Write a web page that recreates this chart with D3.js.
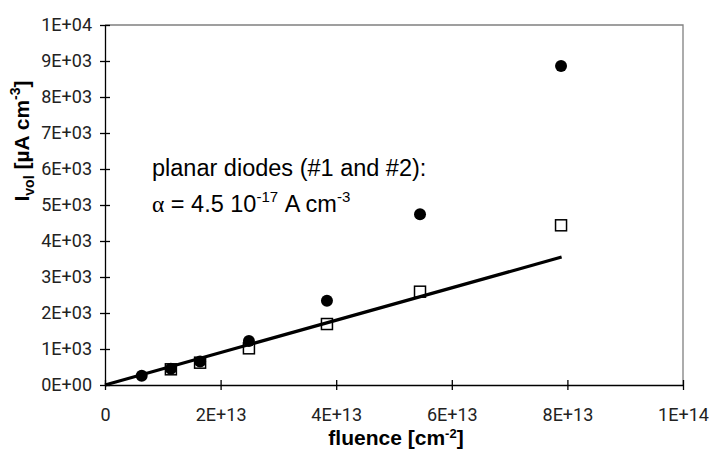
<!DOCTYPE html>
<html>
<head>
<meta charset="utf-8">
<script src="https://cdn.jsdelivr.net/npm/d3@7"></script>
<style>
    body { margin: 0; background: #fff; }
    .tick text { font-family: Roboto, "Liberation Sans", sans-serif; font-size: 18px; fill: #222; }
</style>
</head>
<body>
<div id="chart"></div>
<script>

// fluence in cm^-2, current in uA cm^-3
let fluence = [6.35e12, 1.14e13, 1.645e13, 2.49e13, 3.84e13, 5.45e13, 7.89e13];
let diodeCircles = [258, 450, 650, 1222, 2342, 4741, 8861];
let diodeSquares = [null, 436, 620, 1019, 1694, 2592, 4436];
let fitFluence = [0, 7.9e13];
let fitCurrent = [0, 3555];
let xTicks = [0, 2e13, 4e13, 6e13, 8e13, 1e14];
let yTicks = [0, 1000, 2000, 3000, 4000, 5000, 6000, 7000, 8000, 9000, 10000];

let width = 709,
    height = 450;
let margin = {top: 25, right: 26, bottom: 65, left: 105};

let svg = d3.select('#chart')
    .append('svg')
    .attr('width', width)
    .attr('height', height);

let x = d3.scaleLinear()
    .domain([0, 1e14])
    .range([margin.left, width - margin.right]);

let y = d3.scaleLinear()
    .domain([0, 10000])
    .range([height - margin.bottom, margin.top]);

function sci(v) {
    let parts = v.toExponential(0).split('e');
    let exp = parts[1];
    let sign = exp[0];
    let digits = exp.slice(1).padStart(2, '0');
    return parts[0] + 'E' + sign + digits;
}

// grey plot-area frame (top and right)
svg.append('path')
    .attr('d', 'M' + x(0) + ',' + y(10000) + 'H' + x(1e14) + 'V' + y(0))
    .attr('fill', 'none')
    .attr('stroke', '#808080')
    .attr('stroke-width', 1.3);

let xAxis = svg.append('g')
    .attr('transform', 'translate(0,' + y(0) + ')')
    .call(d3.axisBottom(x)
        .tickValues(xTicks)
        .tickSize(5)
        .tickSizeOuter(0)
        .tickPadding(18)
        .tickFormat(d => d === 0 ? '0' : sci(d)));

let yAxis = svg.append('g')
    .attr('transform', 'translate(' + x(0) + ',0)')
    .call(d3.axisLeft(y)
        .tickValues(yTicks)
        .tickSize(5)
        .tickSizeOuter(0)
        .tickPadding(8)
        .tickFormat(sci));

xAxis.selectAll('.tick line').attr('y1', -5).attr('y2', 5);
yAxis.selectAll('.tick line').attr('x1', 5).attr('x2', -5);
svg.selectAll('.domain').attr('stroke', '#000').attr('stroke-width', 1.3);
svg.selectAll('.tick line').attr('stroke', '#000').attr('stroke-width', 1.3);

let points = fluence.map((f, i) => ({f: f, a: diodeCircles[i], b: diodeSquares[i]}));

svg.append('g')
    .selectAll('rect')
    .data(points.filter(d => d.b !== null))
    .enter().append('rect')
    .attr('x', d => x(d.f) - 5.5)
    .attr('y', d => y(d.b) - 5.5)
    .attr('width', 11)
    .attr('height', 11)
    .attr('fill', '#fff')
    .attr('stroke', '#000')
    .attr('stroke-width', 1.5);

svg.append('g')
    .selectAll('circle')
    .data(points)
    .enter().append('circle')
    .attr('cx', d => x(d.f))
    .attr('cy', d => y(d.a))
    .attr('r', 6)
    .attr('fill', '#000');

let line = d3.line()
    .x(d => x(d[0]))
    .y(d => y(d[1]));

svg.append('path')
    .datum(fitFluence.map((f, i) => [f, fitCurrent[i]]))
    .attr('d', line)
    .attr('fill', 'none')
    .attr('stroke', '#000')
    .attr('stroke-width', 3.2);

// annotation
let note = svg.append('g')
    .style('font-family', '"Liberation Sans", Arial, sans-serif')
    .style('font-size', '23.5px')
    .attr('fill', '#000');

note.append('text')
    .attr('x', 152)
    .attr('y', 176)
    .text('planar diodes (#1 and #2):');

let alpha = note.append('text')
    .attr('x', 152)
    .attr('y', 212);
alpha.append('tspan').style('font-family', '"Liberation Serif", serif').text('\u03b1');
alpha.append('tspan').text(' = 4.5 10');
alpha.append('tspan').attr('dy', -10).style('font-size', '15px').text('-17');
alpha.append('tspan').attr('dy', 10).text(' A cm');
alpha.append('tspan').attr('dy', -10).style('font-size', '15px').text('-3');

// axis titles
let xTitle = svg.append('text')
    .attr('x', (x(0) + x(1e14)) / 2 + 2)
    .attr('y', 445)
    .attr('text-anchor', 'middle')
    .style('font-family', '"Liberation Sans", Arial, sans-serif')
    .style('font-size', '21px')
    .style('font-weight', 'bold');
xTitle.append('tspan').text('fluence [cm');
xTitle.append('tspan').attr('dy', -7).style('font-size', '13px').text('-2');
xTitle.append('tspan').attr('dy', 7).text(']');

let yTitle = svg.append('text')
    .attr('transform', 'translate(29,141) rotate(-90)')
    .attr('text-anchor', 'middle')
    .style('font-family', '"Liberation Sans", Arial, sans-serif')
    .style('font-size', '21px')
    .style('font-weight', 'bold');
yTitle.append('tspan').text('I');
yTitle.append('tspan').attr('dy', 5).style('font-size', '14px').text('vol');
yTitle.append('tspan').attr('dy', -5).text(' [\u00b5A cm');
yTitle.append('tspan').attr('dy', -9).style('font-size', '14px').text('-3');
yTitle.append('tspan').attr('dy', 9).text(']');

</script>
</body>
</html>
